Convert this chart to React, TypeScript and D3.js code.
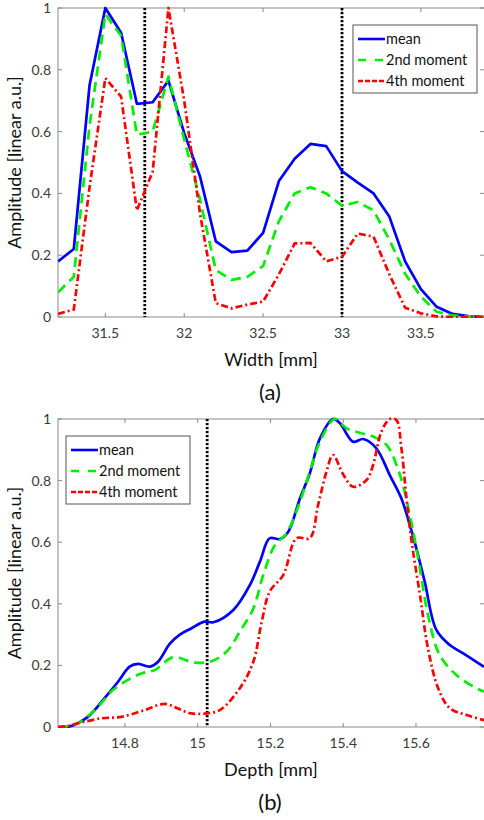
import React from "react";
import * as d3 from "d3";

// ---- panel (a): width profile, sampled every 0.1 mm
const widths = [31.2, 31.3, 31.4, 31.5, 31.6, 31.7, 31.8, 31.9, 32.0, 32.1, 32.2, 32.3, 32.4, 32.5,
  32.6, 32.7, 32.8, 32.9, 33.0, 33.1, 33.2, 33.3, 33.4, 33.5, 33.6, 33.7, 33.8, 33.9];
const widthMean = [0.18, 0.22, 0.75, 1.0, 0.92, 0.69, 0.695, 0.765, 0.595, 0.455, 0.245, 0.21, 0.215, 0.272,
  0.44, 0.512, 0.56, 0.553, 0.472, 0.435, 0.4, 0.325, 0.18, 0.09, 0.033, 0.01, 0.003, 0.0];
const width2nd = [0.08, 0.13, 0.62, 0.98, 0.91, 0.59, 0.6, 0.778, 0.575, 0.38, 0.152, 0.12, 0.13, 0.165,
  0.31, 0.4, 0.42, 0.4, 0.36, 0.372, 0.345, 0.25, 0.14, 0.066, 0.017, 0.005, 0.002, 0.0];
const width4th = [0.01, 0.024, 0.42, 0.773, 0.713, 0.345, 0.47, 1.0, 0.7, 0.335, 0.045, 0.028, 0.04, 0.05,
  0.138, 0.238, 0.24, 0.18, 0.195, 0.27, 0.26, 0.138, 0.03, 0.012, 0.002, 0.0, 0.0, 0.0];

// ---- panel (b): depth profile
const depthMeanX = [14.616, 14.643, 14.698, 14.744, 14.781, 14.813, 14.836, 14.868, 14.891, 14.923, 14.95, 14.982,
  15.019, 15.043, 15.098, 15.143, 15.171, 15.198, 15.226, 15.249, 15.281, 15.308, 15.336, 15.372, 15.391,
  15.427, 15.455, 15.491, 15.528, 15.56, 15.583, 15.601, 15.624, 15.656, 15.693, 15.73, 15.787];
const depthMean = [0.0, 0.0, 0.033, 0.094, 0.147, 0.196, 0.205, 0.196, 0.212, 0.27, 0.299, 0.32,
  0.342, 0.34, 0.38, 0.46, 0.537, 0.613, 0.61, 0.634, 0.742, 0.823, 0.937, 1.0, 0.986,
  0.926, 0.935, 0.905, 0.818, 0.742, 0.656, 0.58, 0.472, 0.315, 0.266, 0.239, 0.195];

const depth2ndX = [14.616, 14.643, 14.671, 14.726, 14.767, 14.808, 14.845, 14.882, 14.932, 14.991, 15.034, 15.079,
  15.116, 15.153, 15.18, 15.212, 15.244, 15.281, 15.308, 15.336, 15.377, 15.409, 15.45, 15.482, 15.519,
  15.556, 15.583, 15.606, 15.633, 15.665, 15.711, 15.766, 15.787];
const depth2nd = [0.0, 0.003, 0.012, 0.066, 0.12, 0.153, 0.174, 0.185, 0.226, 0.209, 0.212, 0.244,
  0.31, 0.385, 0.493, 0.59, 0.629, 0.731, 0.829, 0.926, 1.0, 0.97, 0.954, 0.943, 0.916,
  0.818, 0.688, 0.548, 0.364, 0.234, 0.169, 0.126, 0.115];

const depth4thX = [14.616, 14.643, 14.671, 14.735, 14.79, 14.854, 14.909, 14.946, 14.982, 15.024, 15.061, 15.116,
  15.153, 15.176, 15.198, 15.235, 15.272, 15.308, 15.331, 15.354, 15.372, 15.4, 15.427, 15.464, 15.482,
  15.505, 15.528, 15.546, 15.56, 15.574, 15.588, 15.611, 15.633, 15.661, 15.693, 15.739, 15.787];
const depth4th = [0.0, 0.003, 0.012, 0.028, 0.033, 0.055, 0.075, 0.06, 0.044, 0.044, 0.055, 0.126,
  0.212, 0.342, 0.44, 0.493, 0.613, 0.613, 0.721, 0.829, 0.883, 0.82, 0.78, 0.802, 0.85,
  0.959, 1.0, 0.997, 0.905, 0.742, 0.602, 0.429, 0.255, 0.126, 0.061, 0.039, 0.022];

const yTicks = [0, 0.2, 0.4, 0.6, 0.8, 1];
const widthTicks = [31.5, 32, 32.5, 33, 33.5];
const depthTicks = [14.8, 15, 15.2, 15.4, 15.6];
const widthMarkers = [31.75, 33.0];
const depthMarkers = [15.026];
const legendNames = ["mean", "2nd moment", "4th moment"];

const FONT = "Lato, 'Open Sans', sans-serif";
const styles = [
  { color: "#0000ff", dash: "none" },
  { color: "#00ee00", dash: "10 6" },
  { color: "#ff0000", dash: "7 3 2 3" },
];

type Series = { x: number[]; y: number[] };

function Panel(props: {
  top: number; bottom: number; domain: [number, number]; ticks: number[];
  series: Series[]; markers: number[]; xLabel: string; tag: string;
  legendX: number; legendY: number; smooth: boolean;
}) {
  const left = 58, right = 484;
  const x = d3.scaleLinear().domain(props.domain).range([left, right]);
  const y = d3.scaleLinear().domain([0, 1]).range([props.bottom, props.top]);
  const ln = d3.line<[number, number]>()
    .x((d) => x(d[0]))
    .y((d) => y(d[1]))
    .curve(props.smooth ? d3.curveCatmullRom.alpha(0.5) : d3.curveLinear);
  const axisColor = "#8a8a8a";
  const txt = "#3a3a3a";
  const midY = (props.top + props.bottom) / 2;

  return (
    <g>
      <defs>
        <clipPath id={"clip" + props.tag}>
          <rect x={left} y={props.top - 2} width={right - left} height={props.bottom - props.top + 3} />
        </clipPath>
      </defs>
      {/* box */}
      <rect x={left} y={props.top} width={right - left + 4} height={props.bottom - props.top}
        fill="white" stroke={axisColor} strokeWidth={1} />
      {props.ticks.map((t) => (
        <g key={"xt" + t}>
          <line x1={x(t)} x2={x(t)} y1={props.bottom} y2={props.bottom - 4} stroke={axisColor} />
          <line x1={x(t)} x2={x(t)} y1={props.top} y2={props.top + 4} stroke={axisColor} />
          <text x={x(t)} y={props.bottom + 21} textAnchor="middle" fontSize={14} fill={txt} fontFamily={FONT}>{t}</text>
        </g>
      ))}
      {yTicks.map((t) => (
        <g key={"yt" + t}>
          <line x1={left} x2={left + 4} y1={y(t)} y2={y(t)} stroke={axisColor} />
          <line x1={right - 4} x2={right} y1={y(t)} y2={y(t)} stroke={axisColor} />
          <text x={51} y={y(t) + 5} textAnchor="end" fontSize={14} fill={txt} fontFamily={FONT}>{t}</text>
        </g>
      ))}
      <g clipPath={`url(#clip${props.tag})`}>
        {props.markers.map((m) => (
          <line key={"m" + m} x1={x(m)} x2={x(m)} y1={props.top} y2={props.bottom}
            stroke="black" strokeWidth={2.8} strokeDasharray="2.2 1.8" />
        ))}
        {props.series.map((s, i) => (
          <path key={"s" + i} d={ln(s.x.map((v, j) => [v, s.y[j]] as [number, number])) || ""}
            fill="none" stroke={styles[i].color} strokeWidth={2.7}
            strokeDasharray={styles[i].dash} strokeLinejoin="round" />
        ))}
      </g>
      {/* legend */}
      <g transform={`translate(${props.legendX},${props.legendY})`}>
        <rect x={0} y={0} width={124} height={68} fill="white" stroke="#555" strokeWidth={1} />
        {legendNames.map((n, i) => (
          <g key={n} transform={`translate(0,${14 + i * 21})`}>
            <line x1={5} x2={32} y1={0} y2={0} stroke={styles[i].color} strokeWidth={2.6}
              strokeDasharray={styles[i].dash === "none" ? "none" : i === 1 ? "8 9" : "5 2"} />
            <text x={33} y={5} fontSize={14.5} fill="#111" fontFamily={FONT}>{n}</text>
          </g>
        ))}
      </g>
      <text transform={`translate(21,${midY}) rotate(-90)`} textAnchor="middle" fontSize={18}
        fill="#111" fontFamily={FONT}>Amplitude [linear a.u.]</text>
      <text x={271} y={props.bottom + 49} textAnchor="middle" fontSize={18} fill="#111" fontFamily={FONT}>
        {props.xLabel}
      </text>
      <text x={270} y={props.bottom + 83} textAnchor="middle" fontSize={22} fill="#111" fontFamily={FONT}>
        {"(" + props.tag + ")"}
      </text>
    </g>
  );
}

export default function App() {
  return (
    <svg width={484} height={820} style={{ position: "absolute", left: 0, top: 0, background: "white" }}>
      <rect width={484} height={820} fill="white" />
      <Panel top={8} bottom={317} domain={[31.2, 33.9]} ticks={widthTicks}
        series={[{ x: widths, y: widthMean }, { x: widths, y: width2nd }, { x: widths, y: width4th }]}
        markers={widthMarkers} xLabel="Width [mm]" tag="a" legendX={353} legendY={25} smooth={false} />
      <Panel top={419} bottom={727} domain={[14.616, 15.787]} ticks={depthTicks}
        series={[{ x: depthMeanX, y: depthMean }, { x: depth2ndX, y: depth2nd }, { x: depth4thX, y: depth4th }]}
        markers={depthMarkers} xLabel="Depth [mm]" tag="b" legendX={66} legendY={436} smooth={true} />
    </svg>
  );
}
